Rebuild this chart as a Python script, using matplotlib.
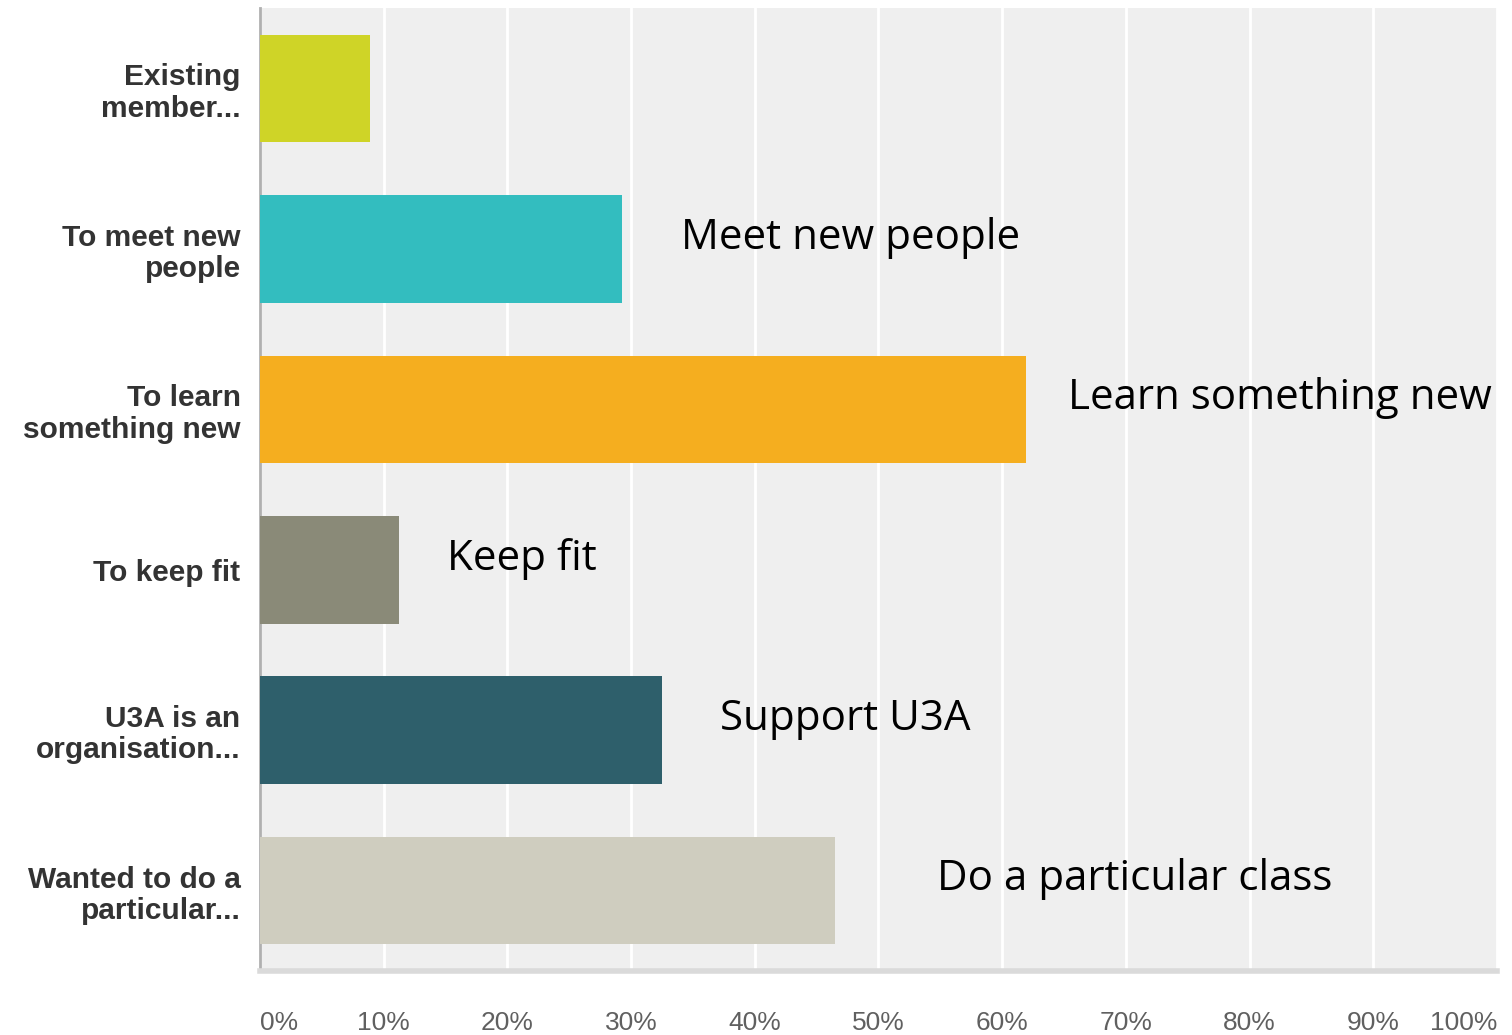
import matplotlib
matplotlib.use("Agg")
import matplotlib.pyplot as plt

# survey responses: why members joined
labels = ["Existing\nmember...", "To meet new\npeople", "To learn\nsomething new",
          "To keep fit", "U3A is an\norganisation...", "Wanted to do a\nparticular..."]
values = [8.9, 29.3, 61.9, 11.2, 32.5, 46.5]
colors = ["#cfd427", "#33bdbf", "#f5ae1f", "#8a8a78", "#2e5f6b", "#cfcdbf"]
notes = ["", "Meet new people", "Learn something new", "Keep fit",
         "Support U3A", "Do a particular class"]
note_x = [0, 34.0, 65.3, 15.1, 37.2, 54.7]
ticks = list(range(0, 101, 10))
tick_labels = [f"{t}%" for t in ticks]

fig = plt.figure(figsize=(15.12, 10.35), dpi=100)
ax = fig.add_axes([0.172, 0.062, 0.818, 0.930])
ax.set_facecolor("#efefef")

ypos = list(range(len(labels)))
ax.barh(ypos, values, height=0.67, color=colors, zorder=3)

ax.set_xlim(0, 100)
ax.set_ylim(len(labels) - 0.5, -0.5)
ax.set_xticks(ticks)
ax.set_xticklabels(tick_labels, fontsize=19, color="#606060",
                   family=["Liberation Sans", "DejaVu Sans"])
tl = ax.get_xticklabels()
tl[0].set_horizontalalignment("left")
tl[-1].set_horizontalalignment("right")
ax.xaxis.grid(True, color="white", linewidth=2, zorder=1)
ax.tick_params(axis="x", length=0, pad=29)
ax.tick_params(axis="y", length=0, pad=14)

ax.set_yticks(ypos)
ax.set_yticklabels(labels, fontsize=21.5, fontweight="bold", color="#333333",
                   family=["Liberation Sans", "DejaVu Sans"], linespacing=1.15)

for s in ("top", "right"):
    ax.spines[s].set_visible(False)
ax.spines["left"].set_color("#b0b0b0")
ax.spines["left"].set_linewidth(2)
ax.spines["bottom"].set_color("#dadada")
ax.spines["bottom"].set_linewidth(4)

for i, (txt, x) in enumerate(zip(notes, note_x)):
    if txt:
        ax.text(x, i - 0.07, txt, fontsize=30.3, color="black", va="center",
                ha="left", family=["Open Sans", "DejaVu Sans"], zorder=4)

fig.savefig("out.png", dpi=100)
